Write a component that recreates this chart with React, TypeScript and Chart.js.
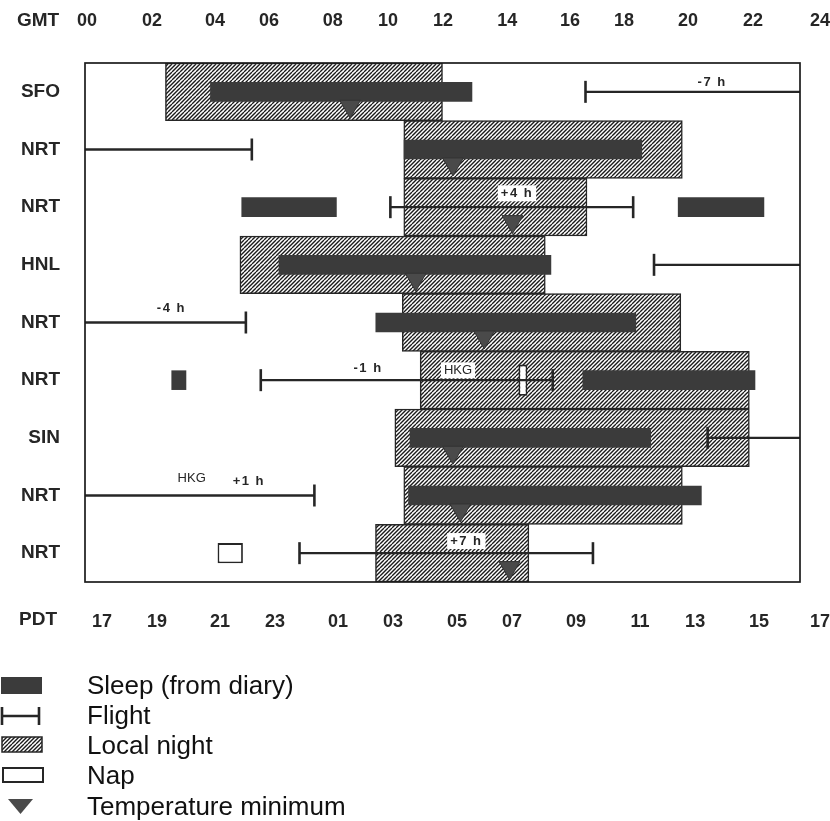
import React, { useEffect, useRef } from 'react';
import { Chart, registerables } from 'chart.js';

Chart.register(...registerables);

// ---------- data (GMT hours, row index from top) ----------
const rowLabels = ['SFO', 'NRT', 'NRT', 'HNL', 'NRT', 'NRT', 'SIN', 'NRT', 'NRT'];

const gmtTickLabels = ['00', '02', '04', '06', '08', '10', '12', '14', '16', '18', '20', '22', '24'];
const gmtTickAt = [0.07, 2.25, 4.36, 6.18, 8.32, 10.17, 12.02, 14.17, 16.28, 18.09, 20.24, 22.42, 24.67];
const pdtTickLabels = ['17', '19', '21', '23', '01', '03', '05', '07', '09', '11', '13', '15', '17'];
const pdtTickAt = [0.57, 2.42, 4.53, 6.38, 8.49, 10.34, 12.49, 14.33, 16.48, 18.63, 20.48, 22.62, 24.67];
const axisNames = ['GMT', 'PDT'];

const nightStart = [2.7, 10.7, 10.7, 5.2, 10.65, 11.25, 10.4, 10.7, 9.75];
const nightEnd = [12.0, 20.05, 16.85, 15.45, 20.0, 22.3, 22.3, 20.05, 14.9];

const sleepRow = [0, 1, 2, 2, 3, 4, 5, 5, 6, 7];
const sleepStart = [4.2, 10.7, 5.25, 19.9, 6.5, 9.75, 2.9, 16.7, 10.9, 10.85];
const sleepEnd = [13.0, 18.7, 8.45, 22.8, 15.65, 18.5, 3.4, 22.5, 19.0, 20.7];

const napRow = [5, 8];
const napStart = [14.55, 4.45];
const napEnd = [14.85, 5.3];

const flightRow = [0, 1, 2, 3, 4, 5, 6, 7, 8];
const flightStart = [16.8, 0, 10.25, 19.1, 0, 5.9, 20.9, 0, 7.2];
const flightEnd = [24, 5.6, 18.4, 24, 5.4, 15.7, 24, 7.7, 17.05];

const tempRow = [0, 1, 2, 3, 4, 6, 7, 8];
const tempHour = [8.9, 12.35, 14.35, 11.1, 13.4, 12.35, 12.6, 14.25];

const noteText = ['-7 h', '+4 h', '-4 h', '-1 h', 'HKG', 'HKG', '+1 h', '+7 h'];
const noteHour = [21.05, 14.5, 2.9, 9.5, 12.52, 3.58, 5.5, 12.8];
const noteRow = [-0.17, 1.76, 3.75, 4.79, 4.83, 6.71, 6.75, 7.79];

const legendLabels = ['Sleep (from diary)', 'Flight', 'Local night', 'Nap', 'Temperature minimum'];

// ---------- styles ----------
const FONT = "'Liberation Sans', Arial, Helvetica, sans-serif";
const INK = '#262626';
const SLEEP = '#3b3b3b';
const TRI = '#4a4a4a';
const NAP_PCT = [0.54, 0.35];
const NOTE_BOLD = [true, true, true, true, false, false, true, true];
const CAP = 11;

function makeHatch(): CanvasPattern | string {
  const c = document.createElement('canvas');
  c.width = 8;
  c.height = 8;
  const g = c.getContext('2d');
  if (!g) return '#999';
  g.fillStyle = '#ffffff';
  g.fillRect(0, 0, 8, 8);
  g.strokeStyle = '#1a1a1a';
  g.lineWidth = 1.35;
  for (let k = -2; k <= 2; k++) {
    g.beginPath();
    g.moveTo(k * 4, 8);
    g.lineTo(k * 4 + 8, 0);
    g.stroke();
  }
  return g.createPattern(c, 'repeat') || '#999';
}

function drawHatchRect(ctx: CanvasRenderingContext2D, pat: any, x: number, y: number, w: number, h: number) {
  ctx.fillStyle = pat;
  ctx.fillRect(x, y, w, h);
  ctx.strokeStyle = INK;
  ctx.lineWidth = 1.5;
  ctx.strokeRect(x, y, w, h);
}

export default function App() {
  const ref = useRef<HTMLCanvasElement>(null);

  useEffect(() => {
    const canvas = ref.current;
    if (!canvas) return;
    const hatch = makeHatch();

    const datasets: any[] = [];

    // temperature minima (drawn on top)
    datasets.push({
      type: 'scatter',
      label: 'Temperature minimum',
      order: 1,
      xAxisID: 'x',
      yAxisID: 'y',
      data: tempRow.map((r, i) => ({ x: tempHour[i], y: r + 0.25 })),
      pointStyle: 'triangle',
      pointRotation: 180,
      pointRadius: 12,
      pointBackgroundColor: TRI,
      pointBorderColor: '#333',
      pointBorderWidth: 1,
    });

    // flights
    flightRow.forEach((r, i) => {
      datasets.push({
        type: 'line',
        label: 'Flight',
        order: 2,
        xAxisID: 'x',
        yAxisID: 'y',
        data: [
          { x: flightStart[i], y: r },
          { x: flightEnd[i], y: r },
        ],
        borderColor: INK,
        borderWidth: 2.4,
        fill: false,
        tension: 0,
        pointStyle: 'line',
        pointRotation: 90,
        pointRadius: [flightStart[i] > 0 ? CAP : 0, flightEnd[i] < 24 ? CAP : 0],
        pointBorderWidth: 2.6,
        pointBorderColor: INK,
        clip: false,
      });
    });

    // naps
    napRow.forEach((r, i) => {
      datasets.push({
        type: 'bar',
        label: 'Nap',
        order: 3,
        indexAxis: 'y',
        grouped: false,
        xAxisID: 'x',
        yAxisID: 'y',
        data: [{ x: [napStart[i], napEnd[i]], y: r }],
        backgroundColor: '#ffffff',
        borderColor: INK,
        borderWidth: 1.8,
        borderSkipped: false,
        barPercentage: NAP_PCT[i],
        categoryPercentage: 1,
      });
    });

    // sleep
    datasets.push({
      type: 'bar',
      label: 'Sleep (from diary)',
      order: 4,
      indexAxis: 'y',
      grouped: false,
      xAxisID: 'x',
      yAxisID: 'y',
      data: sleepRow.map((r, i) => ({ x: [sleepStart[i], sleepEnd[i]], y: r })),
      backgroundColor: SLEEP,
      borderWidth: 0,
      barPercentage: 0.34,
      categoryPercentage: 1,
    });

    // local night
    datasets.push({
      type: 'bar',
      label: 'Local night',
      order: 5,
      indexAxis: 'y',
      grouped: false,
      xAxisID: 'x',
      yAxisID: 'y',
      data: nightStart.map((s, i) => ({ x: [s, nightEnd[i]], y: i })),
      backgroundColor: hatch,
      borderColor: INK,
      borderWidth: 1.5,
      borderSkipped: false,
      barPercentage: 1,
      categoryPercentage: 1,
    });

    const tickFont = { family: FONT, size: 18, weight: 'bold' as const };

    const decor = {
      id: 'decor',
      afterDatasetsDraw(chart: any) {
        const { ctx, chartArea, scales } = chart;
        const xs = scales.x;
        const ys = scales.y;
        ctx.save();
        // plot frame
        ctx.strokeStyle = '#1c1c1c';
        ctx.lineWidth = 1.7;
        ctx.strokeRect(chartArea.left, chartArea.top, chartArea.right - chartArea.left, chartArea.bottom - chartArea.top);
        // notes
        noteText.forEach((t, i) => {
          const px = xs.getPixelForValue(noteHour[i]);
          const py = ys.getPixelForValue(noteRow[i]);
          ctx.font = `${NOTE_BOLD[i] ? 'bold ' : ''}13px ${FONT}`;
          (ctx as any).letterSpacing = NOTE_BOLD[i] ? '1.5px' : '0px';
          const w = ctx.measureText(t).width;
          ctx.fillStyle = '#ffffff';
          ctx.fillRect(px - w / 2 - 3, py - 8, w + 6, 16);
          ctx.fillStyle = INK;
          ctx.textAlign = 'center';
          ctx.textBaseline = 'middle';
          ctx.fillText(t, px, py);
        });
        (ctx as any).letterSpacing = '0px';
        ctx.restore();
      },
      afterDraw(chart: any) {
        const { ctx, chartArea } = chart;
        ctx.save();
        // axis names
        ctx.font = `bold 19px ${FONT}`;
        ctx.fillStyle = INK;
        ctx.textAlign = 'center';
        ctx.textBaseline = 'middle';
        ctx.fillText(axisNames[0], 38, chartArea.top - 42);
        ctx.fillText(axisNames[1], 38, chartArea.bottom + 38);

        // legend
        const rowsY = [685, 715, 745, 775, 806];
        // sleep
        ctx.fillStyle = SLEEP;
        ctx.fillRect(1, rowsY[0] - 8, 41, 17);
        // flight
        ctx.strokeStyle = INK;
        ctx.lineWidth = 2.4;
        ctx.beginPath();
        ctx.moveTo(2, rowsY[1] + 1);
        ctx.lineTo(39, rowsY[1] + 1);
        ctx.stroke();
        ctx.lineWidth = 2.6;
        ctx.beginPath();
        ctx.moveTo(2, rowsY[1] - 8);
        ctx.lineTo(2, rowsY[1] + 10);
        ctx.moveTo(39, rowsY[1] - 8);
        ctx.lineTo(39, rowsY[1] + 10);
        ctx.stroke();
        // local night
        drawHatchRect(ctx, hatch, 2, rowsY[2] - 8, 40, 15);
        // nap
        ctx.fillStyle = '#ffffff';
        ctx.fillRect(3, rowsY[3] - 7, 40, 14);
        ctx.strokeStyle = INK;
        ctx.lineWidth = 2;
        ctx.strokeRect(3, rowsY[3] - 7, 40, 14);
        // temperature
        ctx.fillStyle = TRI;
        ctx.beginPath();
        ctx.moveTo(8, rowsY[4] - 7);
        ctx.lineTo(33, rowsY[4] - 7);
        ctx.lineTo(20.5, rowsY[4] + 8);
        ctx.closePath();
        ctx.fill();

        ctx.font = `26px ${FONT}`;
        ctx.fillStyle = '#111111';
        ctx.textAlign = 'left';
        ctx.textBaseline = 'alphabetic';
        legendLabels.forEach((t, i) => ctx.fillText(t, 87, rowsY[i] + 9));
        ctx.restore();
      },
    };

    const chart = new Chart(canvas, {
      type: 'bar',
      data: { datasets },
      options: {
        animation: false,
        responsive: false,
        devicePixelRatio: 1,
        events: [],
        layout: { padding: { left: 0, top: 0, right: 30, bottom: 189 } },
        plugins: { legend: { display: false }, tooltip: { enabled: false } },
        scales: {
          x: {
            type: 'linear',
            position: 'bottom',
            min: 0,
            max: 24,
            offset: false,
            grid: { display: false },
            border: { display: false },
            afterBuildTicks: (s: any) => {
              s.ticks = pdtTickAt.map((v) => ({ value: v }));
            },
            ticks: {
              autoSkip: false,
              maxRotation: 0,
              padding: 21,
              color: INK,
              font: tickFont,
              callback: (_v: any, i: number) => pdtTickLabels[i],
            },
            afterFit: (s: any) => {
              s.height = 50;
              s.paddingLeft = 0;
              s.paddingRight = 0;
            },
          },
          x2: {
            type: 'linear',
            axis: 'x',
            position: 'top',
            min: 0,
            max: 24,
            offset: false,
            grid: { display: false },
            border: { display: false },
            afterBuildTicks: (s: any) => {
              s.ticks = gmtTickAt.map((v) => ({ value: v }));
            },
            ticks: {
              autoSkip: false,
              maxRotation: 0,
              padding: 23,
              color: INK,
              font: tickFont,
              callback: (_v: any, i: number) => gmtTickLabels[i],
            },
            afterFit: (s: any) => {
              s.height = 63;
              s.paddingLeft = 0;
              s.paddingRight = 0;
            },
          },
          y: {
            type: 'linear',
            position: 'left',
            min: -0.5,
            max: 8.5,
            reverse: true,
            offset: false,
            grid: { display: false },
            border: { display: false },
            afterBuildTicks: (s: any) => {
              s.ticks = rowLabels.map((_l, i) => ({ value: i }));
            },
            ticks: {
              autoSkip: false,
              padding: 17,
              color: INK,
              font: { family: FONT, size: 19, weight: 'bold' },
              callback: (_v: any, i: number) => rowLabels[i],
            },
            afterFit: (s: any) => {
              s.width = 85;
              s.paddingTop = 0;
              s.paddingBottom = 0;
            },
          },
        },
      } as any,
      plugins: [decor],
    } as any);

    return () => chart.destroy();
  }, []);

  return (
    <div style={{ position: 'absolute', left: 0, top: 0, width: 830, height: 821, background: '#ffffff' }}>
      <canvas ref={ref} width={830} height={821} style={{ display: 'block', width: 830, height: 821 }} />
    </div>
  );
}
